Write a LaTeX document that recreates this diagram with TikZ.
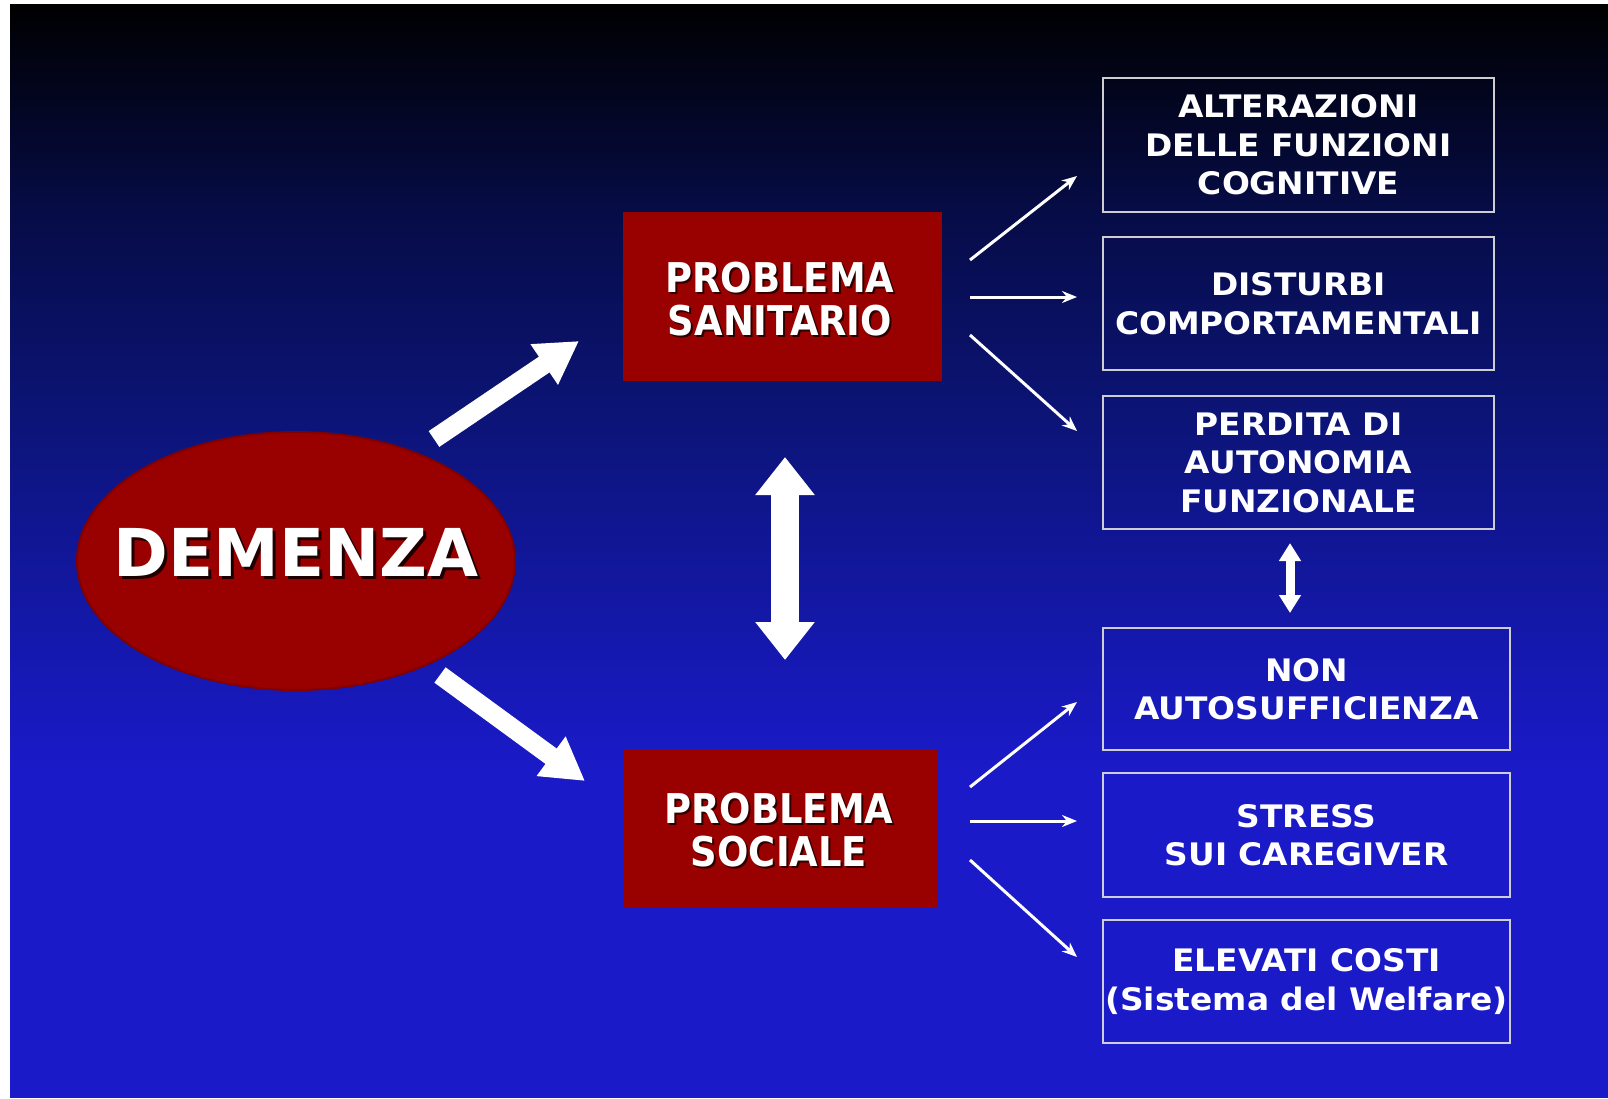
\documentclass[tikz,border=0pt]{standalone}
\usepackage{fontspec}
\setmainfont{DejaVu Sans}
\newfontfamily\boxfont[FakeStretch=1.06]{DejaVu Sans}
\newfontfamily\redfont[FakeStretch=0.9]{DejaVu Sans}
\usetikzlibrary{arrows.meta,shapes.geometric,calc}
\definecolor{dred}{RGB}{153,0,0}
\definecolor{dredge}{RGB}{130,0,0}
\definecolor{bord}{RGB}{205,205,210}
\definecolor{g0}{RGB}{0,0,0}
\definecolor{g1}{RGB}{6,12,70}
\definecolor{g2}{RGB}{12,20,120}
\definecolor{g3}{RGB}{20,24,170}
\definecolor{g4}{RGB}{26,26,200}
\definecolor{g5}{RGB}{26,26,200}
\tikzset{
  rbox/.style={draw=bord, line width=1.5pt, align=center, text=white,
    font=\boxfont\bfseries\fontsize{31}{38.5}\selectfont, inner sep=0pt},
  redbox/.style={fill=dred, inner sep=0pt},
  redtxt/.style={align=center, text=white, inner sep=0pt,
    font=\redfont\bfseries\fontsize{41}{43}\selectfont},
  redshadow/.style={redtxt, text=black!70!dred},
  tarrow/.style={white, line width=3pt, -{Stealth[length=15pt,width=12pt]}},
  barrow/.style={white, line width=19pt, -{Triangle[length=42pt,width=46pt]}},
}
\begin{document}
\begin{tikzpicture}[x=1pt,y=-1pt]
\useasboundingbox (0,0) rectangle (1608,1098);
\fill[white] (0,0) rectangle (1608,1098);
% background gradient
\shade[top color=g0,bottom color=g1] (10,4) rectangle (1608,211);
\shade[top color=g1,bottom color=g2] (10,210) rectangle (1608,421);
\shade[top color=g2,bottom color=g3] (10,420) rectangle (1608,631);
\shade[top color=g3,bottom color=g4] (10,630) rectangle (1608,771);
\fill[g5] (10,770) rectangle (1608,1098);

% central ellipse
\node[ellipse, fill=dred, draw=dredge, line width=2pt, minimum width=438pt,
      minimum height=258pt, inner sep=0pt] (dem) at (296,561) {};
\node[anchor=base, text=black!80!dred, inner sep=0pt,
      font=\bfseries\fontsize{66}{66}\selectfont] (demS) at (299,579) {DEMENZA};
\node[anchor=base, text=white, inner sep=0pt,
      font=\bfseries\fontsize{66}{66}\selectfont] (demT) at (296,576) {DEMENZA};

% red boxes
\node[redbox, minimum width=319pt, minimum height=169pt] (san) at (782.5,296.5) {};
\node[redshadow] (sanS) at (782,301) {PROBLEMA\\SANITARIO};
\node[redtxt] (sanT) at (780,299) {PROBLEMA\\SANITARIO};
\node[redbox, minimum width=315pt, minimum height=157pt] (soc) at (780.5,828.5) {};
\node[redshadow] (socS) at (781,832) {PROBLEMA\\SOCIALE};
\node[redtxt] (socT) at (779,830) {PROBLEMA\\SOCIALE};

% right boxes
\node[rbox, minimum width=391pt, minimum height=134pt] (b1) at (1298.5,145) {ALTERAZIONI\\DELLE FUNZIONI\\COGNITIVE};
\node[rbox, minimum width=391pt, minimum height=133pt] (b2) at (1298.5,303.5) {DISTURBI\\COMPORTAMENTALI};
\node[rbox, minimum width=391pt, minimum height=133pt] (b3) at (1298.5,462.5) {PERDITA DI\\AUTONOMIA\\FUNZIONALE};
\node[rbox, minimum width=407pt, minimum height=122pt] (b4) at (1306.5,689) {NON\\AUTOSUFFICIENZA};
\node[rbox, minimum width=407pt, minimum height=124pt] (b5) at (1306.5,835) {STRESS\\SUI CAREGIVER};
\node[rbox, minimum width=407pt, minimum height=123pt] (b6) at (1306.5,981.5) {ELEVATI COSTI\\(Sistema del Welfare)};

% arrow end points
\coordinate (s1) at (970,260); \coordinate (e1) at (1077,176);
\coordinate (s2) at (970,297); \coordinate (e2) at (1077,297);
\coordinate (s3) at (970,335); \coordinate (e3) at (1077,431);
\coordinate (o1) at (970,787); \coordinate (f1) at (1077,702);
\coordinate (o2) at (970,821); \coordinate (f2) at (1077,821);
\coordinate (o3) at (970,860); \coordinate (f3) at (1077,957);
\coordinate (upT) at (434,439); \coordinate (upH) at (579,341);
\coordinate (dnT) at (440,675); \coordinate (dnH) at (585,781);
\coordinate (vA) at (785,457); \coordinate (vB) at (785,660);
\coordinate (wA) at (1290,543); \coordinate (wB) at (1290,613);

\draw[tarrow] (s1) -- (e1);
\draw[tarrow] (s2) -- (e2);
\draw[tarrow] (s3) -- (e3);
\draw[tarrow] (o1) -- (f1);
\draw[tarrow] (o2) -- (f2);
\draw[tarrow] (o3) -- (f3);

\draw[barrow] (upT) -- (upH);
\draw[barrow] (dnT) -- (dnH);
\draw[white, line width=28pt, {Triangle[length=38pt,width=57pt]}-{Triangle[length=38pt,width=57pt]}] (vA) -- (vB);
\draw[white, line width=9pt, {Triangle[length=18pt,width=21pt]}-{Triangle[length=18pt,width=21pt]}] (wA) -- (wB);
\end{tikzpicture}
\end{document}
